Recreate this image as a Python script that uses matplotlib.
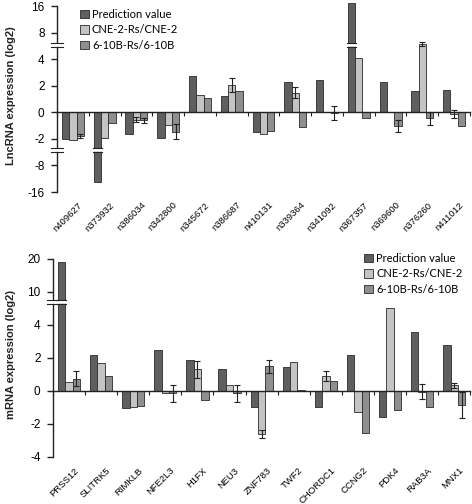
import numpy as np
import matplotlib
matplotlib.use("Agg")
import matplotlib.pyplot as plt
import matplotlib.transforms as mtransforms

plt.rcParams['font.family'] = ['Liberation Sans', 'DejaVu Sans']

# ---- data ----
lnc_names = ["n409627", "n373932", "n386034", "n342800", "n345672", "n386687", "n410131",
             "n339364", "n341092", "n367357", "n369600", "n376260", "n411012"]
lnc_pred = [-2.1, -12.9, -1.6, -1.95, 2.75, 1.2, -1.5, 2.3, 2.4, 17.0, 2.25, 1.57, 1.7]
lnc_cne = [-2.25, -1.95, -0.55, -0.95, 1.33, 2.05, -1.6, 1.47, 0.05, 4.15, 0.0, 6.35, -0.1]
lnc_b6 = [-1.8, -0.8, -0.6, -1.5, 1.07, 1.6, -1.4, -1.1, -0.05, -0.4, -1.0, -0.45, -1.0]
lnc_cne_err = [0, 0, 0.2, 0, 0, 0.5, 0, 0.4, 0, 0, 0, 0.3, 0.3]
lnc_b6_err = [0.15, 0, 0.2, 0.6, 0, 0, 0, 0, 0.5, 0, 0.45, 0.5, 0]

m_names = ["PRSS12", "SLITRK5", "RIMKLB", "NFE2L3", "H1FX", "NEU3", "ZNF783",
           "TWF2", "CHORDC1", "CCNG2", "PDK4", "RAB3A", "MNX1"]
m_pred = [19.0, 2.15, -1.05, 2.5, 1.9, 1.35, -1.0, 1.45, -0.95, 2.2, -1.6, 3.6, 2.8]
m_cne = [0.55, 1.7, -1.0, -0.15, 1.3, 0.35, -2.6, 1.75, 0.9, -1.27, 7.0, -0.05, 0.35]
m_b6 = [0.75, 0.93, -0.9, -0.15, -0.55, -0.15, 1.5, 0.05, 0.6, -2.55, -1.15, -1.0, -0.85]
m_cne_err = [0, 0, 0, 0, 0.5, 0, 0.25, 0, 0.3, 0, 0, 0.45, 0.15]
m_b6_err = [0.45, 0, 0, 0.5, 0, 0.5, 0.4, 0, 0, 0, 0, 0, 0.8]

series_labels = ["Prediction value", "CNE-2-Rs/CNE-2", "6-10B-Rs/6-10B"]
colors = ["#5f5f5f", "#c4c4c4", "#8f8f8f"]

lnc_ticks = [16, 8, 4, 2, 0, -2, -8, -16]
m_ticks = [20, 10, 4, 2, 0, -2, -4]

# broken axis: piecewise linear scale (value knots -> position knots)
lnc_kv = [-40, -16, -8, -2, 4, 8, 16, 40]
lnc_kp = [-6, -3, -2, -1, 2, 3, 4, 7]
m_kv = [-40, -4, 4, 10, 20, 50]
m_kp = [-20, -2, 2, 3, 4, 7]


def make_scale(kv, kp):
    fwd = lambda v: np.interp(v, kv, kp)
    inv = lambda p: np.interp(p, kp, kv)
    return fwd, inv


def break_mark(ax, fig, trans, x0, x1, y):
    ax.plot([x0, x1], [y, y], color="white", lw=2.6, transform=trans,
            clip_on=False, zorder=6, solid_capstyle="butt")
    for dy in (-2, 2):
        t = mtransforms.offset_copy(trans, fig=fig, y=dy, units="dots")
        ax.plot([x0, x1], [y, y], color="#222222", lw=0.8, transform=t,
                clip_on=False, zorder=7)


def draw_panel(ax, fig, names, pred, cne, b6, cne_err, b6_err, kv, kp, ylim, ticks,
               bar_breaks, axis_breaks):
    ax.set_yscale("function", functions=make_scale(kv, kp))
    x = np.arange(len(names))
    w = 0.23
    vals = [pred, cne, b6]
    errs = [None, cne_err, b6_err]
    for k in range(3):
        xs = x + (k - 1) * w
        ax.bar(xs, vals[k], width=w, color=colors[k], edgecolor="#2a2a2a",
               linewidth=0.6, label=series_labels[k], zorder=2, clip_on=False)
        if errs[k] is not None:
            e = np.array(errs[k])
            m = e > 0
            ax.errorbar(xs[m], np.array(vals[k])[m], yerr=e[m], fmt="none",
                        ecolor="#222222", elinewidth=0.8, capsize=2.5,
                        capthick=0.8, zorder=3)
    for (i, yb) in bar_breaks:
        break_mark(ax, fig, ax.transData, i - 1.6 * w, i - 0.4 * w, yb)
    for yb in axis_breaks:
        break_mark(ax, fig, ax.get_yaxis_transform(), -0.014, 0.014, yb)

    ax.set_ylim(*ylim)
    ax.set_yticks(ticks)
    ax.set_yticklabels([str(t) for t in ticks])
    ax.set_xlim(-0.5, len(names) - 0.5)
    ax.spines["top"].set_visible(False)
    ax.spines["right"].set_visible(False)
    ax.spines["bottom"].set_position(("data", 0))
    for s in ("left", "bottom"):
        ax.spines[s].set_linewidth(1.0)
        ax.spines[s].set_color("#222222")
    ax.set_xticks(np.arange(-0.5, len(names), 1))
    ax.tick_params(axis="x", length=3, width=0.8, color="#222222", labelbottom=False)
    ax.tick_params(axis="y", length=4, width=1.0, color="#222222", labelsize=8.5, pad=5)
    for i, n in enumerate(names):
        ax.text(i + 0.15, -0.045, n, transform=ax.get_xaxis_transform(),
                rotation=45, rotation_mode="anchor", ha="right", va="top",
                fontsize=6.8, color="black", family=["Liberation Sans"])


fig = plt.figure(figsize=(4.72, 5.04), dpi=100)
ax1 = fig.add_axes([0.1208, 0.619, 0.875, 0.369])
ax2 = fig.add_axes([0.1123, 0.0933, 0.884, 0.393])

draw_panel(ax1, fig, lnc_names, lnc_pred, lnc_cne, lnc_b6, lnc_cne_err, lnc_b6_err,
           lnc_kv, lnc_kp, (-16, 16), lnc_ticks,
           bar_breaks=[(9, 6.2), (1, -4.5)], axis_breaks=[6.2, -4.5])
draw_panel(ax2, fig, m_names, m_pred, m_cne, m_b6, m_cne_err, m_b6_err,
           m_kv, m_kp, (-4, 20), m_ticks,
           bar_breaks=[(0, 8.2)], axis_breaks=[8.2])

leg_kw = dict(frameon=False, loc="upper left", handlelength=0.8, handleheight=0.8,
              handletextpad=0.3, labelspacing=0.4, borderpad=0, borderaxespad=0,
              prop={"family": "Lato", "size": 8})
ax1.legend(bbox_to_anchor=(0.055, 0.985), **leg_kw)
ax2.legend(bbox_to_anchor=(0.745, 1.03), **leg_kw)

fig.text(0.024, 0.81, "LncRNA expression (log2)", rotation=90, ha="center",
         va="center", fontsize=8, fontweight="bold", color="#222222",
         family=["Liberation Sans"])
fig.text(0.024, 0.296, "mRNA expression (log2)", rotation=90, ha="center",
         va="center", fontsize=8, fontweight="bold", color="#222222",
         family=["Liberation Sans"])

fig.savefig("out.png", dpi=100)
